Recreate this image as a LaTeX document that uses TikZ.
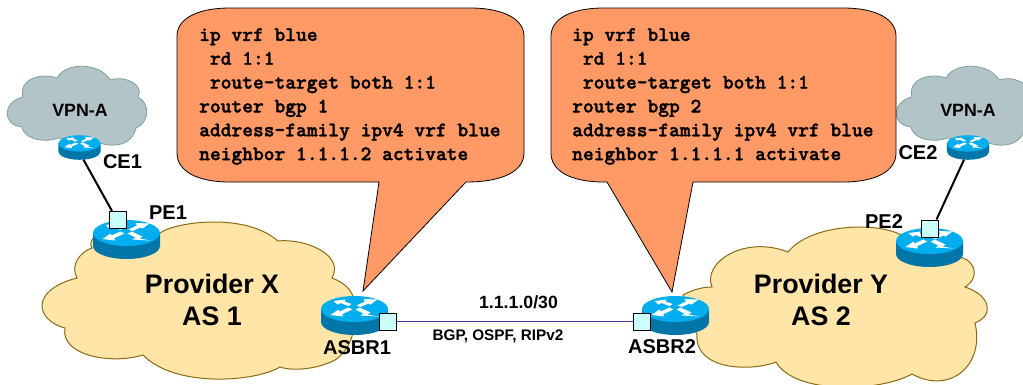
\documentclass[tikz,border=0pt]{standalone}
\usepackage{fontspec}
\setmainfont{Liberation Sans}
\newfontfamily\configfont{lmmonolt10-bold.otf}[FakeBold=1.6]
\tikzset{
    x=1pt, y=-1pt,
    callout/.style={
           draw=black, fill=calloutfill, line width=0.8pt,
           },
    config/.style={
           anchor=north west, align=left, inner sep=0pt,
           font=\configfont\fontsize{20.5}{23.85}\selectfont,
           },
    provider/.style={
           draw=providerline, fill=providerfill, line width=1pt,
           },
    vpncloud/.style={
           draw=vpnline, fill=vpnfill, line width=0.8pt,
           },
    cloudtext/.style={
           align=center, inner sep=0pt,
           font=\bfseries\fontsize{26.8}{32.5}\selectfont,
           },
    tag/.style={
           inner sep=0pt, font=\bfseries\fontsize{20}{22}\selectfont,
           },
    port/.style={
           draw=black, fill=portfill, line width=1pt,
           minimum size=17pt, inner sep=0pt,
           },
    routerbox/.style={
           minimum width=67pt, minimum height=39pt, inner sep=0pt,
           },
    smallbox/.style={
           minimum width=42pt, minimum height=24pt, inner sep=0pt,
           },
    router/.pic={
        \fill[routerside] (-33.5,-6.5) -- (-33.5,6.5)
             arc[start angle=180, end angle=0, x radius=33.5, y radius=13]
             -- (33.5,-6.5) -- cycle;
        \fill[routertop] (0,-6.5) ellipse[x radius=33.5, y radius=13];
        % the four white arrows on the lid
        \fill[white] (-21,-14.5) -- (-9,-16) -- (-10,-14) -- (-3,-11.5) -- (-6,-9.5) -- (-14,-12.5) -- (-17,-11) -- cycle;
        \fill[white] (23,-16) -- (9,-16.5) -- (10.5,-14) -- (2,-10) -- (6,-8.5) -- (14,-12) -- (16,-11) -- cycle;
        \fill[white] (-24,-0.5) -- (-12,1) -- (-12,-1.5) -- (-2,-6) -- (-6,-8) -- (-15,-4) -- (-16,-6) -- cycle;
        \fill[white] (24,1) -- (13,-1) -- (16,-3) -- (5,-8) -- (1,-6) -- (9,-2) -- (6,0) -- cycle;
    },
}
\definecolor{calloutfill}{HTML}{FF9966}
\definecolor{providerfill}{HTML}{FFE6A8}
\definecolor{providerline}{HTML}{8C6A14}
\definecolor{vpnfill}{HTML}{B2C4C8}
\definecolor{vpnline}{HTML}{7F9F9F}
\definecolor{portfill}{HTML}{CCFFFF}
\definecolor{routertop}{HTML}{00AEEF}
\definecolor{routerside}{HTML}{0076A8}
\definecolor{linkblue}{HTML}{3A3AA0}

\begin{document}
\begin{tikzpicture}
\path[use as bounding box, clip] (0,0) rectangle (1023,384);

       % clouds
       \draw[provider] (92,248) .. controls (85,236) and (110,222) .. (160,233)
            .. controls (175,222) and (245,212) .. (278,241)
            .. controls (305,238) and (345,255) .. (332,278)
            .. controls (345,283) and (352,290) .. (354,300)
            .. controls (358,330) and (350,350) .. (335,360)
            .. controls (320,368) and (295,372) .. (280,367)
            .. controls (255,382) and (175,388) .. (143,355)
            .. controls (110,365) and (60,355) .. (65,328)
            .. controls (35,320) and (30,290) .. (77,278)
            .. controls (70,265) and (80,252) .. (92,248) -- cycle;
       \draw[provider] (683,295) .. controls (692,290) and (702,287) .. (712,287)
            .. controls (702,262) and (745,235) .. (788,252)
            .. controls (810,225) and (870,222) .. (897,233)
            -- (963,258) .. controls (975,262) and (980,278) .. (965,287)
            .. controls (990,295) and (995,315) .. (975,323)
            .. controls (985,365) and (950,395) .. (912,374)
            .. controls (880,392) and (795,395) .. (776,362)
            .. controls (750,372) and (695,370) .. (697,335) -- cycle;
       \node[cloudtext] (PROVIDERX) at (212,300) {Provider X\\AS 1};
       \node[cloudtext] (PROVIDERY) at (821,300) {Provider Y\\AS 2};

       \draw[vpncloud] (23,97) .. controls (18,80) and (40,72) .. (57,78)
            .. controls (65,62) and (100,62) .. (110,80)
            .. controls (125,75) and (145,85) .. (138,97)
            .. controls (150,103) and (150,122) .. (136,128)
            .. controls (132,145) and (115,148) .. (100,143)
            -- (58,138) .. controls (50,142) and (25,142) .. (22,127)
            .. controls (2,125) and (2,102) .. (23,97) -- cycle;
       \draw[vpncloud, xshift=889pt] (23,97) .. controls (18,80) and (40,72) .. (57,78)
            .. controls (65,62) and (100,62) .. (110,80)
            .. controls (125,75) and (145,85) .. (138,97)
            .. controls (150,103) and (150,122) .. (136,128)
            .. controls (132,145) and (115,148) .. (100,143)
            -- (58,138) .. controls (50,142) and (25,142) .. (22,127)
            .. controls (2,125) and (2,102) .. (23,97) -- cycle;
       \node[font=\bfseries\fontsize{17.8}{20}\selectfont, inner sep=0pt] (VPNLEFT) at (80,110) {VPN-A};
       \node[font=\bfseries\fontsize{17.8}{20}\selectfont, inner sep=0pt] (VPNRIGHT) at (968,110) {VPN-A};

       % callouts
       \draw[callout] (230,8) -- (470,8) .. controls (505,8) and (524,20) .. (524,36)
            -- (524,153) .. controls (524,170) and (505,182) .. (466,182)
            -- (363,291) -- (379,182) -- (230,182)
            .. controls (195,182) and (177,170) .. (177,153)
            -- (177,36) .. controls (177,20) and (195,8) .. (230,8) -- cycle;
       \draw[callout] (604,8) -- (843,8) .. controls (878,8) and (896,20) .. (896,36)
            -- (896,153) .. controls (896,170) and (878,182) .. (843,182)
            -- (693,182) -- (672,292) -- (607,182) -- (604,182)
            .. controls (569,182) and (551,170) .. (551,153)
            -- (551,36) .. controls (551,20) and (569,8) .. (604,8) -- cycle;
       \node[config] (CONFIGX) at (199,28)
       {ip vrf blue\\
        \ rd 1:1\\
        \ route-target both 1:1\\
        router bgp 1\\
        address-family ipv4 vrf blue\\
        neighbor 1.1.1.2 activate};
       \node[config] (CONFIGY) at (572,28)
       {ip vrf blue\\
        \ rd 1:1\\
        \ route-target both 1:1\\
        router bgp 2\\
        address-family ipv4 vrf blue\\
        neighbor 1.1.1.1 activate};

       % routers
       \node[smallbox] (CE1) at (79.5,147.5) {};
       \node[smallbox] (CE2) at (968,147.5) {};
       \node[routerbox] (PE1) at (126.5,239.5) {};
       \node[routerbox] (PE2) at (929.5,247.5) {};
       \node[routerbox] (ASBR1) at (354.5,315.5) {};
       \node[routerbox] (ASBR2) at (675.5,315.5) {};
       \pic[scale=0.63] at (CE1) {router};
       \pic[scale=0.63] at (CE2) {router};
       \pic at (PE1) {router};
       \pic at (PE2) {router};
       \pic at (ASBR1) {router};
       \pic at (ASBR2) {router};

       \node[port] (PORTPE1) at (118,220) {};
       \node[port] (PORTPE2) at (929.5,228.5) {};
       \node[port] (PORTASBR1) at (388,321.5) {};
       \node[port] (PORTASBR2) at (642,321.5) {};

       \draw[line width=2pt] ([xshift=4pt]CE1.south) -- ([xshift=-6pt]PORTPE1.north) ;
       \draw[line width=2pt] ([xshift=-4pt]CE2.south) -- ([xshift=7pt]PORTPE2.north) ;
       \draw[linkblue, line width=1.2pt] (PORTASBR1.east) -- (PORTASBR2.west) ;

       % labels
       \node[tag] (LABELCE1) at (122.5,162) {CE1};
       \node[tag] (LABELCE2) at (918,153) {CE2};
       \node[tag] (LABELPE1) at (168,213) {PE1};
       \node[tag] (LABELPE2) at (884,222) {PE2};
       \node[tag] (LABELASBR1) at (357,348) {ASBR1};
       \node[tag] (LABELASBR2) at (662,347) {ASBR2};
       \node[font=\bfseries\fontsize{17.7}{20}\selectfont, inner sep=0pt] (SUBNET) at (518.5,302) {1.1.1.0/30};
       \node[font=\bfseries\fontsize{15.3}{18}\selectfont, inner sep=0pt] (PROTOCOLS) at (498,336) {BGP, OSPF, RIPv2};

\end{tikzpicture}
\end{document}
